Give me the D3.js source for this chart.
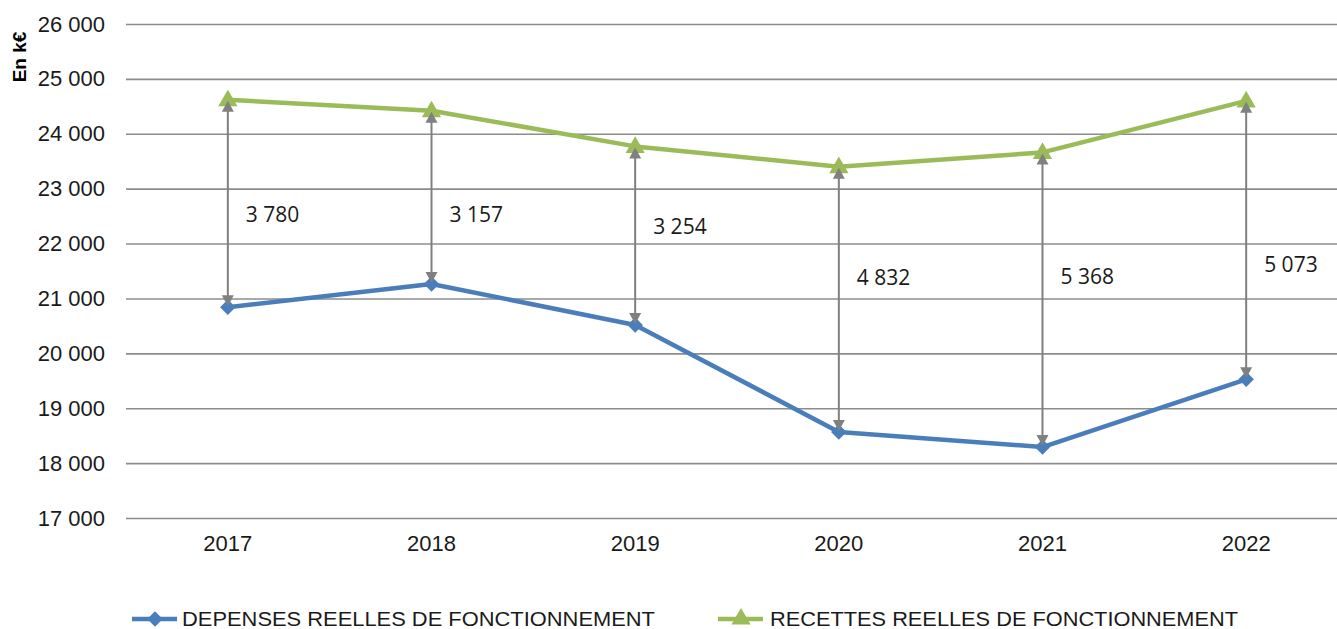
<!DOCTYPE html>
<html>
<head>
<meta charset="utf-8">
<script src="https://cdn.jsdelivr.net/npm/d3@7"></script>
<style>
  body { margin: 0; background: #fff; }
  svg { display: block; }
</style>
</head>
<body>
<script>
// data (k€)
var years = ["2017", "2018", "2019", "2020", "2021", "2022"];
var depenses = [20840, 21263, 20516, 18568, 18292, 19527];
var recettes = [24620, 24420, 23770, 23400, 23660, 24600];
var gapLabels = ["3 780", "3 157", "3 254", "4 832", "5 368", "5 073"];
// level (k€) where each gap label sits
var gapLabelLevel = [22520, 22520, 22300, 21380, 21390, 21610];
var yTicks = [17000, 18000, 19000, 20000, 21000, 22000, 23000, 24000, 25000, 26000];
var seriesNames = ["DEPENSES REELLES DE FONCTIONNEMENT", "RECETTES REELLES DE FONCTIONNEMENT"];

var W = 1337, H = 629;
var margin = {top: 24, left: 126, bottom: 111};
var plotW = 1222, plotH = H - margin.top - margin.bottom;

var blue = "#4a7ebb", green = "#9bbb59", grey = "#808080";

var fr = d3.formatLocale({decimal: ",", thousands: " ", grouping: [3], currency: ["", " €"]});
var fmt = fr.format(",.0f");

var svg = d3.select("body").append("svg")
    .attr("width", W)
    .attr("height", H);

var g = svg.append("g")
    .attr("transform", "translate(" + margin.left + "," + margin.top + ")");

var x = d3.scaleBand().domain(years).range([0, plotW]);
var y = d3.scaleLinear().domain([17000, 26000]).range([plotH, 0]);
var cx = function(i) { return x(years[i]) + x.bandwidth() / 2; };

// gridlines + y labels
var yAxis = g.append("g")
    .call(d3.axisLeft(y).tickValues(yTicks).tickFormat(fmt).tickSize(-plotW).tickPadding(21));
yAxis.select(".domain").remove();
yAxis.selectAll(".tick line").attr("stroke", "#8c8c8c").attr("stroke-width", 1.6);
yAxis.selectAll(".tick text")
    .attr("font-family", "Liberation Sans, Arial, sans-serif")
    .attr("font-size", "22px")
    .attr("fill", "#1a1a1a");

// x labels
var xAxis = g.append("g")
    .attr("transform", "translate(0," + plotH + ")")
    .call(d3.axisBottom(x).tickSize(0).tickPadding(17));
xAxis.select(".domain").remove();
xAxis.selectAll(".tick text")
    .attr("font-family", "Liberation Sans, Arial, sans-serif")
    .attr("font-size", "22px")
    .attr("fill", "#1a1a1a");

// y title
svg.append("text")
    .attr("transform", "translate(26,57) rotate(-90)")
    .attr("text-anchor", "middle")
    .attr("font-family", "Liberation Sans, Arial, sans-serif")
    .attr("font-weight", "bold")
    .attr("font-size", "19px")
    .attr("fill", "#000")
    .text("En k€");

// series lines
var line = d3.line().x(function(d, i) { return cx(i); }).y(function(d) { return y(d); });

g.append("path").datum(depenses)
    .attr("fill", "none").attr("stroke", blue).attr("stroke-width", 4.5)
    .attr("stroke-linejoin", "round").attr("d", line);
g.append("path").datum(recettes)
    .attr("fill", "none").attr("stroke", green).attr("stroke-width", 4.5)
    .attr("stroke-linejoin", "round").attr("d", line);

// markers
var diamond = d3.symbol().type(d3.symbolSquare).size(120);
var tri = d3.symbol().type(d3.symbolTriangle).size(160);

g.selectAll(".dep").data(depenses).enter().append("path")
    .attr("class", "dep")
    .attr("d", diamond)
    .attr("fill", blue)
    .attr("transform", function(d, i) { return "translate(" + cx(i) + "," + y(d) + ") rotate(45)"; });

g.selectAll(".rec").data(recettes).enter().append("path")
    .attr("class", "rec")
    .attr("d", tri)
    .attr("fill", green)
    .attr("transform", function(d, i) { return "translate(" + cx(i) + "," + (y(d) + 1) + ")"; });

// gap arrows
var arrows = g.selectAll(".gap").data(years).enter().append("g").attr("class", "gap");

arrows.append("line")
    .attr("x1", function(d, i) { return cx(i); })
    .attr("x2", function(d, i) { return cx(i); })
    .attr("y1", function(d, i) { return y(recettes[i]) + 8; })
    .attr("y2", function(d, i) { return y(depenses[i]) - 8; })
    .attr("stroke", grey).attr("stroke-width", 2);

arrows.append("path")
    .attr("d", function(d, i) {
      var px = cx(i), py = y(recettes[i]) + 1;
      return "M" + px + "," + py + "L" + (px - 6) + "," + (py + 11) + "L" + (px + 6) + "," + (py + 11) + "Z";
    })
    .attr("fill", grey);

arrows.append("path")
    .attr("d", function(d, i) {
      var px = cx(i), py = y(depenses[i]) - 1;
      return "M" + px + "," + py + "L" + (px - 6) + "," + (py - 11) + "L" + (px + 6) + "," + (py - 11) + "Z";
    })
    .attr("fill", grey);

// gap labels
g.selectAll(".gapLabel").data(gapLabels).enter().append("text")
    .attr("class", "gapLabel")
    .attr("x", function(d, i) { return cx(i) + 18; })
    .attr("y", function(d, i) { return y(gapLabelLevel[i]); })
    .attr("dy", "0.35em")
    .attr("font-family", "Open Sans, Noto Sans, sans-serif")
    .attr("font-size", "21px")
    .attr("fill", "#1a1a1a")
    .text(function(d) { return d; });

// legend
var legend = svg.append("g").attr("transform", "translate(0,619)");
var legX = [132, 718];
var legTextLen = [473, 468];
var legColors = [blue, green];

seriesNames.forEach(function(name, i) {
  var lg = legend.append("g").attr("transform", "translate(" + legX[i] + ",0)");
  lg.append("line")
      .attr("x1", 0).attr("x2", 45).attr("y1", 0).attr("y2", 0)
      .attr("stroke", legColors[i]).attr("stroke-width", 4.5);
  if (i === 0) {
    lg.append("path").attr("d", diamond).attr("fill", blue)
        .attr("transform", "translate(23,0) rotate(45)");
  } else {
    lg.append("path").attr("d", tri).attr("fill", green)
        .attr("transform", "translate(23,0)");
  }
  lg.append("text")
      .attr("x", i === 0 ? 50 : 52)
      .attr("y", 0)
      .attr("dy", "0.36em")
      .attr("font-family", "Liberation Sans, Arial, sans-serif")
      .attr("font-size", "20px")
      .attr("textLength", legTextLen[i])
      .attr("lengthAdjust", "spacingAndGlyphs")
      .attr("fill", "#1a1a1a")
      .text(name);
});
</script>
</body>
</html>
